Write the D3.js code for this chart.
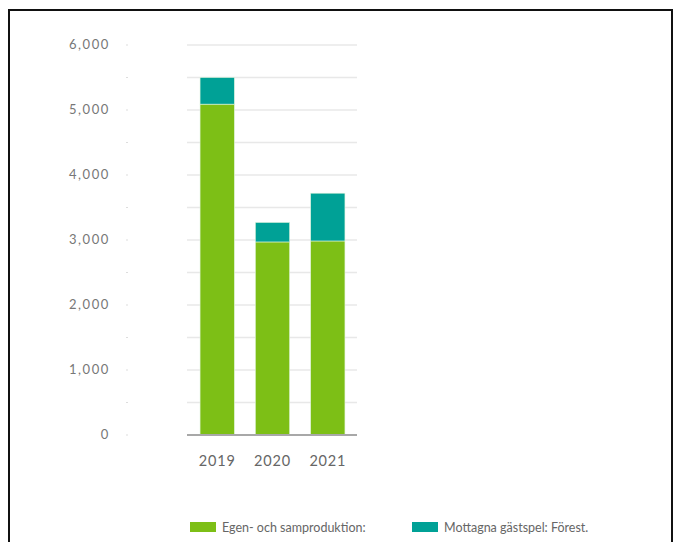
<!DOCTYPE html>
<html>
<head>
<meta charset="utf-8">
<script src="https://cdn.jsdelivr.net/npm/d3@7"></script>
<style>
  body { margin: 0; background: #fff; }
  text { font-family: Lato, "Open Sans", sans-serif; }
</style>
</head>
<body>
<div id="chart"></div>
<script>
const years = ["2019", "2020", "2021"];
const egen = [5090, 2970, 2985];
const gastspel = [410, 300, 735];
const seriesNames = ["Egen- och samproduktion:", "Mottagna gästspel: Förest."];
const colors = ["#7dbf16", "#00a196"];
const yTicks = [0, 1000, 2000, 3000, 4000, 5000, 6000];

const w = 675, h = 542;

const svg = d3.select("#chart").append("svg")
  .attr("width", w)
  .attr("height", h);

// frame round the picture
svg.append("rect")
  .attr("x", 9).attr("y", 10)
  .attr("width", 663).attr("height", 540)
  .attr("fill", "none")
  .attr("stroke", "#111")
  .attr("stroke-width", 2);

const y = d3.scaleLinear().domain([0, 6000]).range([435, 45]);
const x = d3.scaleBand().domain(years).range([189, 356]).paddingInner(0.38).paddingOuter(0.2);

// gridlines every 500
const gridVals = d3.range(500, 6001, 500);
svg.selectAll(".grid").data(gridVals).enter().append("line")
  .attr("x1", 187).attr("x2", 357)
  .attr("y1", d => y(d)).attr("y2", d => y(d))
  .attr("stroke", "#e8e8e8")
  .attr("stroke-width", 1.5);

// small dot ticks
svg.selectAll(".dot").data([0].concat(gridVals)).enter().append("rect")
  .attr("x", 126.5).attr("y", d => y(d) - 0.5)
  .attr("width", 1).attr("height", 1)
  .attr("fill", "#bbb");

// y labels
svg.selectAll(".ylab").data(yTicks).enter().append("text")
  .attr("x", 110)
  .attr("y", d => y(d) + 4)
  .attr("text-anchor", "end")
  .attr("font-size", 13)
  .attr("letter-spacing", 1.6)
  .attr("fill", "#777")
  .text(d => d3.format(",")(d));

// stacked bars
const rows = years.map((yr, i) => ({ year: yr, a: egen[i], b: gastspel[i] }));
const stack = d3.stack().keys(["a", "b"])(rows);

svg.selectAll(".layer").data(stack).enter().append("g")
  .attr("fill", (d, i) => colors[i])
  .selectAll("rect").data(d => d).enter().append("rect")
  .attr("x", d => x(d.data.year))
  .attr("width", x.bandwidth())
  .attr("y", d => y(d[1]))
  .attr("height", d => y(d[0]) - y(d[1]))
  .attr("stroke", "#dff3dc")
  .attr("stroke-width", 0.6);

// baseline
svg.append("line")
  .attr("x1", 187).attr("x2", 357)
  .attr("y1", 435).attr("y2", 435)
  .attr("stroke", "#a8a8a8")
  .attr("stroke-width", 2);

// x labels
svg.selectAll(".xlab").data(years).enter().append("text")
  .attr("x", d => x(d) + x.bandwidth() / 2)
  .attr("y", 466)
  .attr("text-anchor", "middle")
  .attr("font-size", 14.5)
  .attr("letter-spacing", 0.8)
  .attr("fill", "#666")
  .text(d => d);

// legend
const legendX = [190, 412];
const legend = svg.selectAll(".legend").data(seriesNames).enter().append("g")
  .attr("transform", (d, i) => "translate(" + legendX[i] + ",522)");
legend.append("rect")
  .attr("width", 26).attr("height", 10)
  .attr("fill", (d, i) => colors[i]);
legend.append("text")
  .attr("x", 32).attr("y", 9.5)
  .attr("font-size", 12.5)
  .attr("fill", "#666")
  .text(d => d);
</script>
</body>
</html>
